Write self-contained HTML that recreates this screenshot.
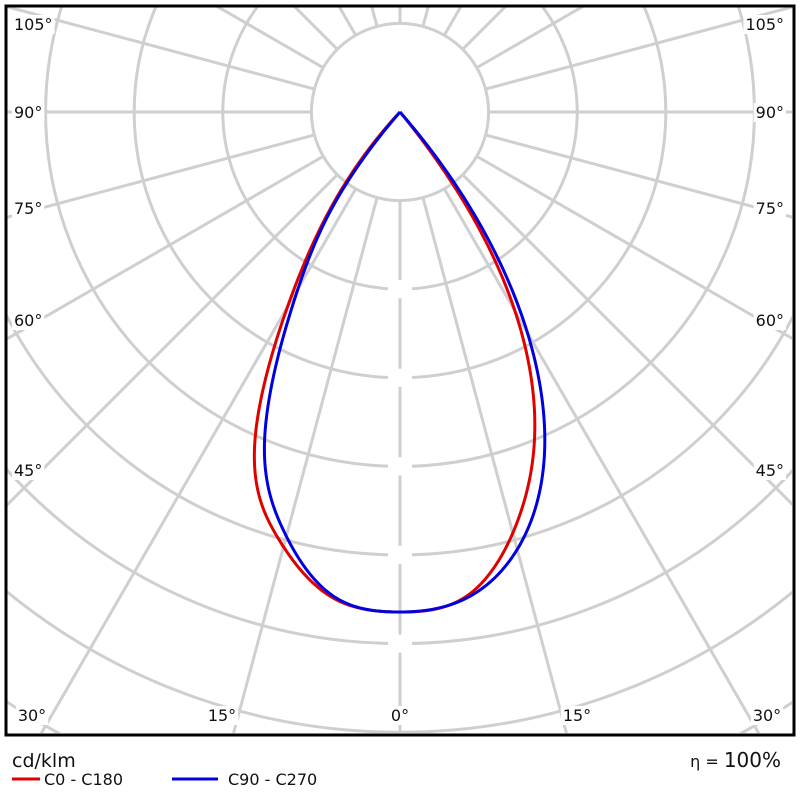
<!DOCTYPE html>
<html><head><meta charset="utf-8"><style>
html,body{margin:0;padding:0;background:#fff;width:800px;height:800px;overflow:hidden}
svg{display:block}
text{font-family:"DejaVu Sans","Liberation Sans",sans-serif}
</style></head><body>
<svg id="s" width="800" height="800" xmlns="http://www.w3.org/2000/svg">
<defs><clipPath id="c"><rect x="7" y="7" width="785" height="726"/></clipPath></defs>
<g id="grid" clip-path="url(#c)" stroke="#cfcfcf" stroke-width="3" fill="none"></g>
<g id="gaps" fill="#fff"></g>
<g id="curves" clip-path="url(#c)" fill="none" stroke-width="3" stroke-linejoin="round"></g>
<g id="labels" font-size="16" fill="#111"></g>
<rect x="6" y="6" width="788" height="729" fill="none" stroke="#000" stroke-width="3"/>
<text x="12" y="767" font-size="19" fill="#111" font-family="Liberation Sans, sans-serif">cd/klm</text>
<line x1="12" y1="779" x2="40" y2="779" stroke="#e00000" stroke-width="3"/>
<text x="44" y="785" font-size="16" fill="#111" font-family="Liberation Sans, sans-serif">C0 - C180</text>
<line x1="172" y1="779" x2="218" y2="779" stroke="#0000e0" stroke-width="3"/>
<text x="228" y="785" font-size="16" fill="#111" font-family="Liberation Sans, sans-serif">C90 - C270</text>
<text x="781" y="767" font-size="20" fill="#111" text-anchor="end" font-family="Liberation Sans, sans-serif"><tspan font-size="16">η = </tspan>100%</text>
</svg>
<script>
var NS="http://www.w3.org/2000/svg",cx=400,cy=112,R=88.6;
function el(p,t,a){var e=document.createElementNS(NS,t);for(var k in a)e.setAttribute(k,a[k]);document.getElementById(p).appendChild(e);return e;}
for(var k=1;k<=10;k++)el("grid","circle",{cx:cx,cy:cy,r:R*k});
for(var a=0;a<360;a+=15){var r=a*Math.PI/180;el("grid","line",{x1:cx+R*Math.sin(r),y1:cy+R*Math.cos(r),x2:cx+1200*Math.sin(r),y2:cy+1200*Math.cos(r)});}
for(var k=2;k<=6;k++)el("gaps","rect",{x:388,y:cy+R*k-9,width:24,height:18});
var L=[["105°",14,30,"start"],["90°",14,118,"start"],["75°",14,214,"start"],["60°",14,326,"start"],["45°",14,476,"start"],
["105°",784,30,"end"],["90°",784,118,"end"],["75°",784,214,"end"],["60°",784,326,"end"],["45°",784,476,"end"],
["30°",32,721,"middle"],["15°",222,721,"middle"],["0°",400,721,"middle"],["15°",577,721,"middle"],["30°",767,721,"middle"]];
L.forEach(function(l){var t=el("labels","text",{x:l[1],y:l[2],"text-anchor":l[3]});t.textContent=l[0];var b=t.getBBox();
var bg=document.createElementNS(NS,"rect");bg.setAttribute("x",b.x-2);bg.setAttribute("y",b.y);bg.setAttribute("width",b.width+4);bg.setAttribute("height",b.height);bg.setAttribute("fill","#fff");t.parentNode.insertBefore(bg,t);});
function spline(xs0,ys0){ // mirror for zero slope at 0, natural cubic spline
var xs=[],ys=[];for(var i=xs0.length-1;i>0;i--){xs.push(-xs0[i]);ys.push(ys0[i]);}for(var i=0;i<xs0.length;i++){xs.push(xs0[i]);ys.push(ys0[i]);}
var n=xs.length,h=[],al=[],l=[1],mu=[0],z=[0],c=[],b=[],d=[];
for(var i=0;i<n-1;i++)h.push(xs[i+1]-xs[i]);
for(var i=1;i<n-1;i++)al[i]=3/h[i]*(ys[i+1]-ys[i])-3/h[i-1]*(ys[i]-ys[i-1]);
for(var i=1;i<n-1;i++){l[i]=2*(xs[i+1]-xs[i-1])-h[i-1]*mu[i-1];mu[i]=h[i]/l[i];z[i]=(al[i]-h[i-1]*z[i-1])/l[i];}
c[n-1]=0;for(var j=n-2;j>=0;j--){c[j]=z[j]-mu[j]*c[j+1];b[j]=(ys[j+1]-ys[j])/h[j]-h[j]*(c[j+1]+2*c[j])/3;d[j]=(c[j+1]-c[j])/(3*h[j]);}
return function(x){var i=0;while(i<n-2&&x>xs[i+1])i++;var t=x-xs[i];return ys[i]+b[i]*t+c[i]*t*t+d[i]*t*t*t;};}
function curve(left,right,col){var pts=[];
var fl=spline(left[0],left[1]),fr=spline(right[0],right[1]);
var gl=left[0][left[0].length-1],gr=right[0][right[0].length-1];
for(var g=gl;g>=0;g-=0.25){var r=Math.max(0,fl(g)),a=g*Math.PI/180;pts.push((cx-r*Math.sin(a)).toFixed(2)+","+(cy+r*Math.cos(a)).toFixed(2));}
for(var g=0;g<=gr;g+=0.25){var r=Math.max(0,fr(g)),a=g*Math.PI/180;pts.push((cx+r*Math.sin(a)).toFixed(2)+","+(cy+r*Math.cos(a)).toFixed(2));}
el("curves","polyline",{points:pts.join(" "),stroke:col});}
curve([[0,8,16,24,30,36,43],[500,490,443,356,225,115,0]],
      [[0,8,16,23,30,35,39.5],[500,488,426,345,230,120,0]],"#e00000");
curve([[0,8,15.6,22.6,29,36,41],[500,488,434,352,222,105,0]],
      [[0,8,16,24,31,36,41],[500,490,445,356,235,125,0]],"#0000e0");
</script>
</body></html>
